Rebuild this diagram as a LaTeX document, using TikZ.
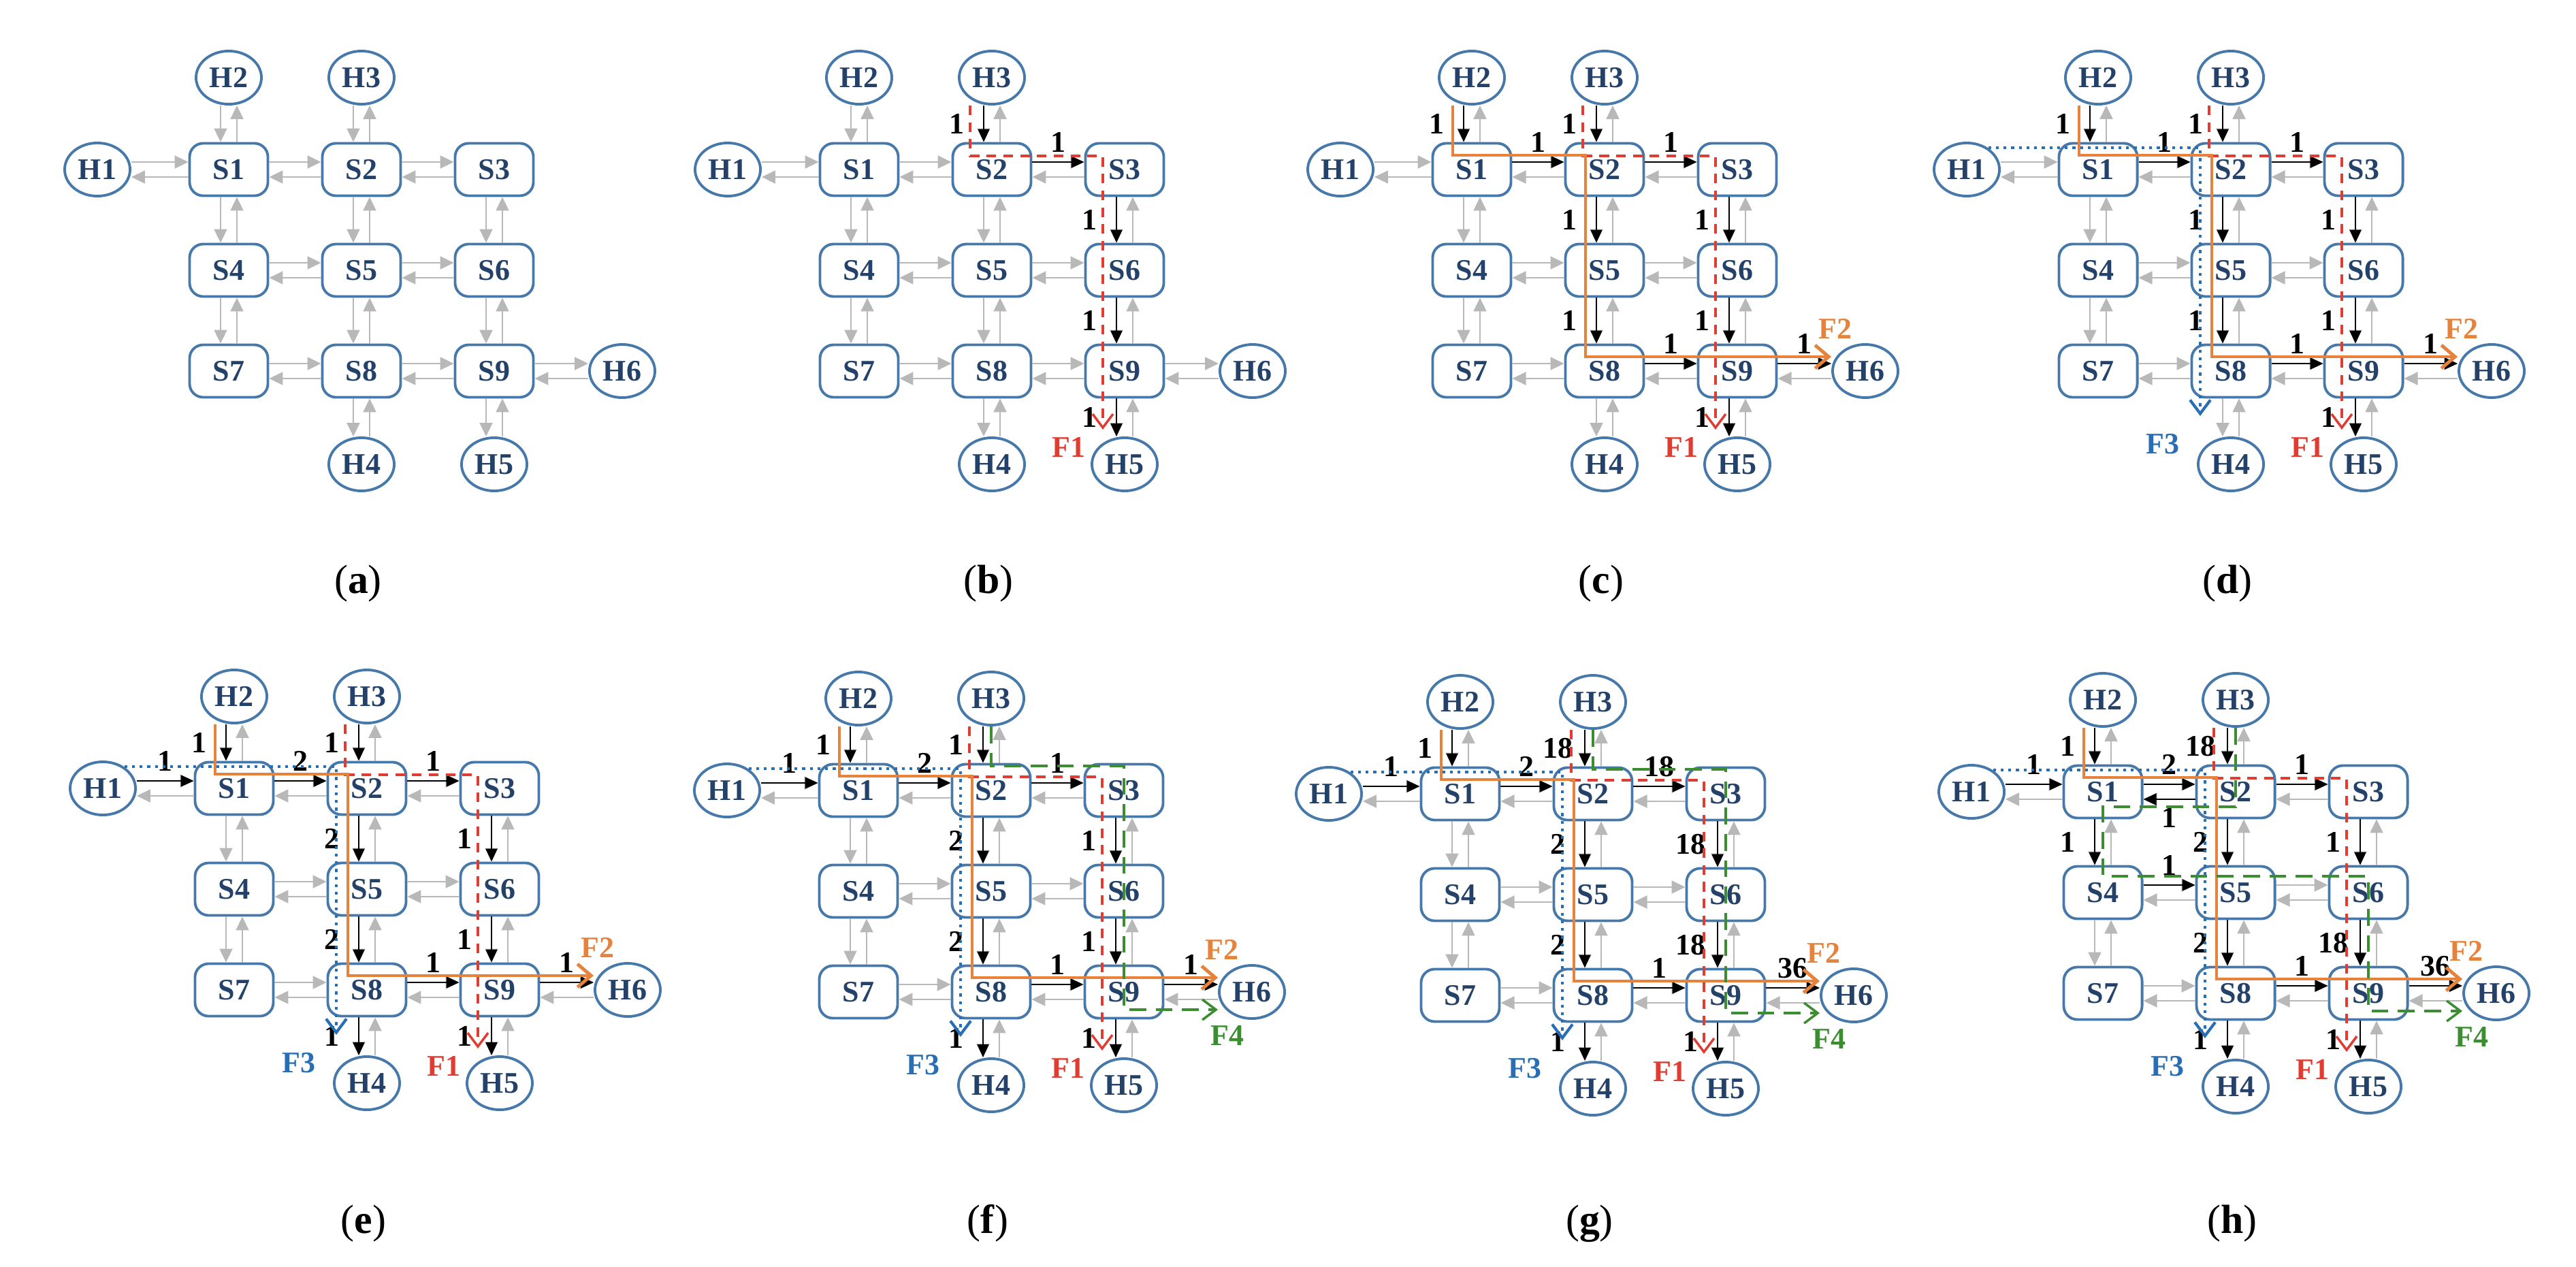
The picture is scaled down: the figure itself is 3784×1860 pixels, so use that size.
\documentclass[tikz,border=0pt]{standalone}
\usepackage{fontspec}
\setmainfont{Liberation Serif}
\usetikzlibrary{arrows.meta,calc,shapes.geometric}

\definecolor{nblue}{RGB}{70,120,170}
\definecolor{ntext}{RGB}{35,65,105}
\definecolor{cred}{RGB}{225,60,50}
\definecolor{corange}{RGB}{230,130,60}
\definecolor{cblue}{RGB}{40,110,180}
\definecolor{cgreen}{RGB}{60,140,50}

\tikzset{
  sw/.style={draw=nblue, line width=1.1pt, rounded corners=2mm, fill=white,
    minimum width=1.15cm, minimum height=0.77cm, text=ntext, font=\bfseries\fontsize{12.5}{12.5}\selectfont},
  hst/.style={ellipse, draw=nblue, line width=1.1pt, fill=white, minimum width=0.96cm, minimum height=0.78cm,
    inner sep=0pt, text=ntext, font=\bfseries\fontsize{12.5}{12.5}\selectfont},
  glink/.style={draw=black!28, line width=0.6pt, -{Triangle[length=2mm,width=1.9mm,fill=black!28]}},
  blink/.style={draw=black, line width=0.6pt, -{Triangle[length=1.9mm,width=1.7mm]}},
  wt/.style={font=\bfseries\fontsize{12.5}{12.5}\selectfont},
  fl/.style={font=\bfseries\fontsize{12.5}{12.5}\selectfont},
  subcap/.style={font=\fontsize{17}{17}\selectfont},
  fone/.style={draw=cred, line width=1pt, dash pattern=on 4pt off 3pt, -{Straight Barb[length=2mm,width=3mm]}},
  ftwo/.style={draw=corange, line width=1.4pt, -{Straight Barb[length=2mm,width=3.4mm]}},
  fthree/.style={draw=cblue, line width=1.2pt, dotted, -{Straight Barb[length=2mm,width=3mm]}},
  ffour/.style={draw=cgreen, line width=1pt, dash pattern=on 7pt off 4pt, -{Straight Barb[length=2mm,width=3mm]}}
}

% link pairs
\newcommand\rgt[3][glink]{\draw[#1] ([yshift=1.1mm]#2.east) -- ([yshift=1.1mm]#3.west);}
\newcommand\lft[3][glink]{\draw[#1] ([yshift=-1.1mm]#3.west) -- ([yshift=-1.1mm]#2.east);}
\newcommand\dwn[3][glink]{\draw[#1] ([xshift=-1.2mm]#2.south) -- ([xshift=-1.2mm]#3.north);}
\newcommand\upw[3][glink]{\draw[#1] ([xshift=1.2mm]#3.north) -- ([xshift=1.2mm]#2.south);}

% weights
\newcommand\wh[3]{\node[wt] at ($(#1.east)!.5!(#2.west)+(0,-40)$) {#3};}
\newcommand\wv[3]{\node[wt] at ($(#1.south)!.5!(#2.north)+(-52,0)$) {#3};}
\newcommand\wb[3]{\node[wt] at ($(#1.east)!.5!(#2.west)+(0,38)$) {#3};}
\newcommand\wlist[2]{\foreach \k/\a/\b/\w in {#2}{\csname w\k\endcsname{#1\a}{#1\b}{\w}}}

% one network
\newcommand\grid[4]{%
  \foreach \i/\c/\r in {1/0/0,2/1/0,3/2/0,4/0/1,5/1/1,6/2/1,7/0/2,8/1/2,9/2/2}
    \node[sw] (#1S\i) at ($(#2,#3)+(\c*195,\r*148)$) {S\i};
  \node[hst] (#1H1) at ($(#2,#3)+(-193,0)$) {H1};
  \node[hst] (#1H2) at ($(#2,#3)+(0,-135)$) {H2};
  \node[hst] (#1H3) at ($(#2,#3)+(195,-135)$) {H3};
  \node[hst] (#1H4) at ($(#2,#3)+(195,433)$) {H4};
  \node[hst] (#1H5) at ($(#2,#3)+(390,433)$) {H5};
  \node[hst] (#1H6) at ($(#2,#3)+(578,296)$) {H6};
  \foreach \a/\b in {H1/S1,S1/S2,S2/S3,S4/S5,S5/S6,S7/S8,S8/S9,S9/H6}
    {\rgt{#1\a}{#1\b}\lft{#1\a}{#1\b}}
  \foreach \a/\b in {H2/S1,H3/S2,S1/S4,S2/S5,S3/S6,S4/S7,S5/S8,S6/S9,S8/H4,S9/H5}
    {\dwn{#1\a}{#1\b}\upw{#1\a}{#1\b}}
  \node[subcap] (cap#1) at ($(#2,#3)+(190,#4)$) {(\textbf{#1})};
}

% used links
\newcommand\blackB[1]{\dwn[blink]{#1H3}{#1S2}\rgt[blink]{#1S2}{#1S3}\dwn[blink]{#1S3}{#1S6}\dwn[blink]{#1S6}{#1S9}\dwn[blink]{#1S9}{#1H5}}
\newcommand\blackC[1]{\blackB{#1}\dwn[blink]{#1H2}{#1S1}\rgt[blink]{#1S1}{#1S2}\dwn[blink]{#1S2}{#1S5}\dwn[blink]{#1S5}{#1S8}\rgt[blink]{#1S8}{#1S9}\rgt[blink]{#1S9}{#1H6}}
\newcommand\blackE[1]{\blackC{#1}\rgt[blink]{#1H1}{#1S1}\dwn[blink]{#1S8}{#1H4}}

% flows
\newcommand\fone[1]{\draw[fone] ([xshift=-3.2mm]#1H3.south) |- ([xshift=-3.2mm,yshift=2mm]#1S3.center) -- ([xshift=-3.2mm,yshift=1mm]#1H5.north);
  \node[fl,text=cred] at ([xshift=-8.2mm,yshift=2.5mm]#1H5.center) {F1};}
\newcommand\ftwo[1]{\draw[ftwo] ([xshift=-2.8mm]#1H2.south) |- ([xshift=-2.8mm,yshift=2.1mm]#1S2.center) |- ([yshift=2.1mm]#1H6.west);
  \node[fl,text=corange] at ([xshift=-4.4mm,yshift=6.2mm]#1H6.center) {F2};}
\newcommand\fthree[1]{\draw[fthree] (#1H1.45) -| ([xshift=-4.5mm,yshift=3mm]#1H4.north);
  \node[fl,text=cblue] at ([xshift=-10mm,yshift=3mm]#1H4.center) {F3};}
\newcommand\ffour[1]{\draw[ffour] (#1H3.south) |- ([yshift=3.6mm]#1S3.center) |- ([yshift=-2.6mm]#1H6.west);
  \node[fl,text=cgreen] at ([xshift=-3.6mm,yshift=-6.4mm]#1H6.center) {F4};}

\begin{document}
\begin{tikzpicture}[x=0.01cm, y=-0.01cm]
\useasboundingbox (0,0) rectangle (3784,1860);

\grid{a}{336}{249}{608}
\grid{b}{1262}{249}{608}
\grid{c}{2162}{249}{608}
\grid{d}{3082}{249}{608}
\grid{e}{344}{1158}{639}
\grid{f}{1261}{1161}{636}
\grid{g}{2145}{1166}{631}
\grid{h}{3089}{1163}{634}

% (b)
\blackB{b}
\wlist{b}{v/H3/S2/1, h/S2/S3/1, v/S3/S6/1, v/S6/S9/1, v/S9/H5/1}
\fone{b}

% (c)
\blackC{c}
\wlist{c}{v/H2/S1/1, v/H3/S2/1, h/S1/S2/1, h/S2/S3/1, v/S2/S5/1, v/S5/S8/1,
  v/S3/S6/1, v/S6/S9/1, h/S8/S9/1, h/S9/H6/1, v/S9/H5/1}
\fone{c}
\ftwo{c}

% (d)
\blackC{d}
\wlist{d}{v/H2/S1/1, v/H3/S2/1, h/S1/S2/1, h/S2/S3/1, v/S2/S5/1, v/S5/S8/1,
  v/S3/S6/1, v/S6/S9/1, h/S8/S9/1, h/S9/H6/1, v/S9/H5/1}
\fone{d}
\ftwo{d}
\fthree{d}

% (e)
\blackE{e}
\wlist{e}{h/H1/S1/1, v/H2/S1/1, v/H3/S2/1, h/S1/S2/2, h/S2/S3/1, v/S2/S5/2, v/S5/S8/2,
  v/S8/H4/1, v/S3/S6/1, v/S6/S9/1, h/S8/S9/1, h/S9/H6/1, v/S9/H5/1}
\fone{e}
\ftwo{e}
\fthree{e}

% (f)
\blackE{f}
\wlist{f}{h/H1/S1/1, v/H2/S1/1, v/H3/S2/1, h/S1/S2/2, h/S2/S3/1, v/S2/S5/2, v/S5/S8/2,
  v/S8/H4/1, v/S3/S6/1, v/S6/S9/1, h/S8/S9/1, h/S9/H6/1, v/S9/H5/1}
\fone{f}
\ftwo{f}
\fthree{f}
\ffour{f}

% (g)
\blackE{g}
\wlist{g}{h/H1/S1/1, v/H2/S1/1, v/H3/S2/18, h/S1/S2/2, h/S2/S3/18, v/S2/S5/2, v/S5/S8/2,
  v/S8/H4/1, v/S3/S6/18, v/S6/S9/18, h/S8/S9/1, h/S9/H6/36, v/S9/H5/1}
\fone{g}
\ftwo{g}
\fthree{g}
\ffour{g}

% (h)
\blackE{h}
\lft[blink]{hS1}{hS2}
\dwn[blink]{hS1}{hS4}
\rgt[blink]{hS4}{hS5}
\wlist{h}{h/H1/S1/1, v/H2/S1/1, v/H3/S2/18, h/S1/S2/2, h/S2/S3/1, b/S1/S2/1, v/S1/S4/1,
  h/S4/S5/1, v/S2/S5/2, v/S5/S8/2, v/S8/H4/1, v/S3/S6/1, v/S6/S9/18, h/S8/S9/1,
  h/S9/H6/36, v/S9/H5/1}
\fone{h}
\ftwo{h}
\fthree{h}
\draw[ffour] (hH3.south) |- ([yshift=-2.2mm]hS1.center) |- ([yshift=2.4mm]hS6.center)
  |- ([yshift=-2.6mm]hH6.west);
\node[fl,text=cgreen] at ([xshift=-3.6mm,yshift=-6.4mm]hH6.center) {F4};
\end{tikzpicture}
\end{document}
